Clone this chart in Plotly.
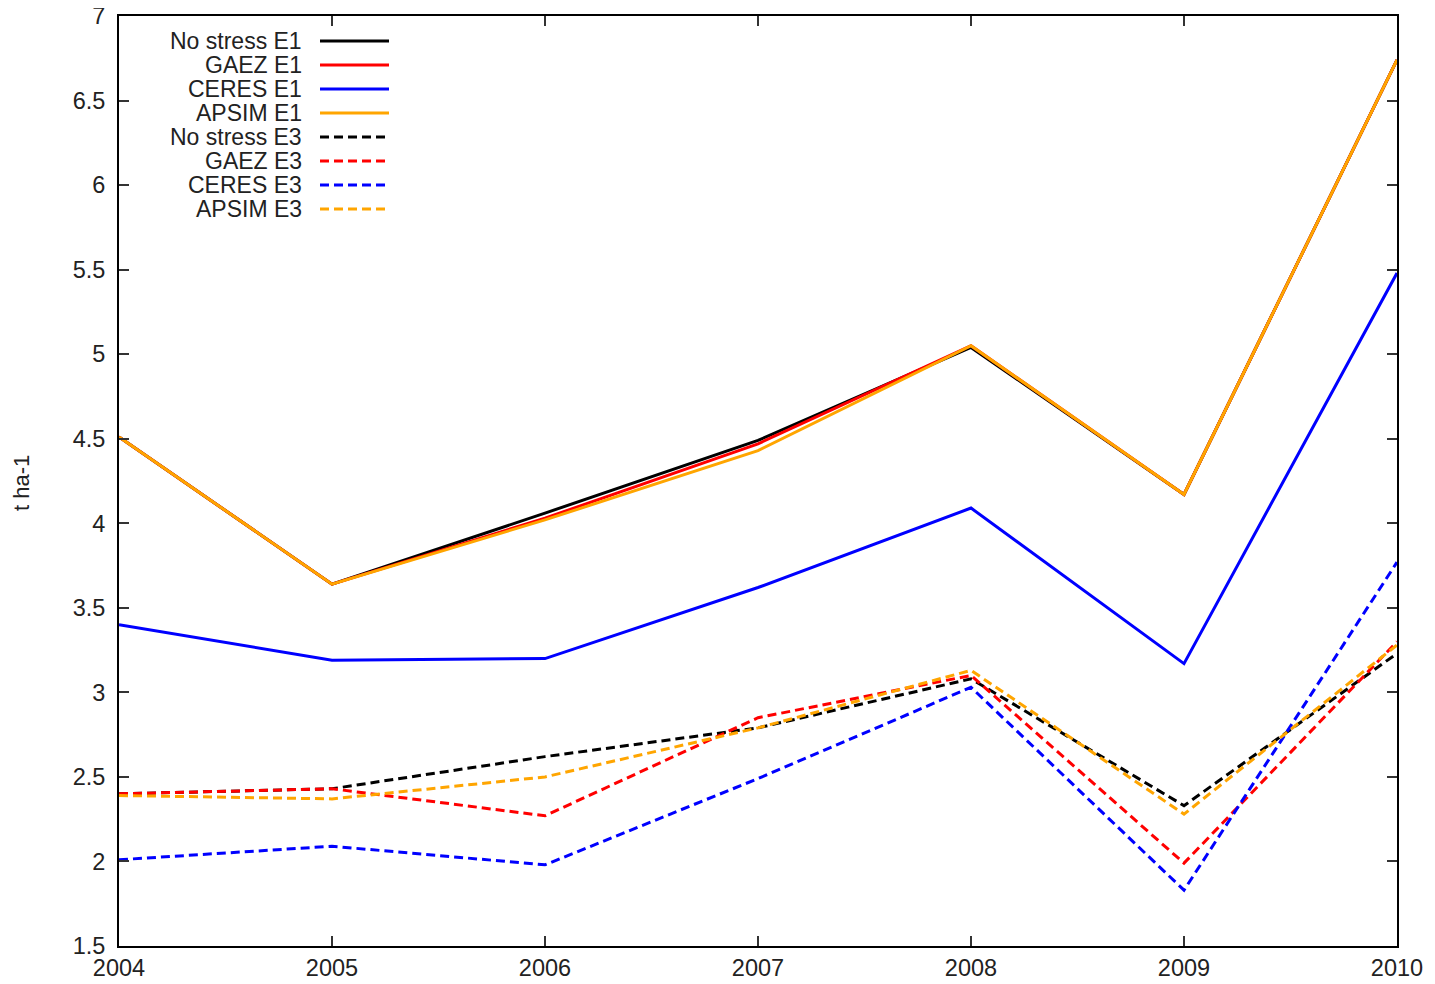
import plotly.graph_objects as go

years = [2004, 2005, 2006, 2007, 2008, 2009, 2010]

nostress_e1 = [4.51, 3.64, 4.06, 4.49, 5.04, 4.17, 6.74]
gaez_e1     = [4.51, 3.64, 4.03, 4.47, 5.05, 4.17, 6.74]
ceres_e1    = [3.40, 3.19, 3.20, 3.62, 4.09, 3.17, 5.48]
apsim_e1    = [4.51, 3.64, 4.02, 4.43, 5.05, 4.17, 6.74]

nostress_e3 = [2.40, 2.43, 2.62, 2.79, 3.08, 2.33, 3.23]
gaez_e3     = [2.40, 2.43, 2.27, 2.85, 3.10, 1.99, 3.30]
ceres_e3    = [2.01, 2.09, 1.98, 2.49, 3.03, 1.83, 3.77]
apsim_e3    = [2.39, 2.37, 2.50, 2.79, 3.13, 2.28, 3.28]

series = [
    ("No stress E1", nostress_e1, "#000000", "solid"),
    ("GAEZ E1", gaez_e1, "#ff0000", "solid"),
    ("CERES E1", ceres_e1, "#0000ff", "solid"),
    ("APSIM E1", apsim_e1, "#ffa500", "solid"),
    ("No stress E3", nostress_e3, "#000000", "9px,5px"),
    ("GAEZ E3", gaez_e3, "#ff0000", "9px,5px"),
    ("CERES E3", ceres_e3, "#0000ff", "9px,5px"),
    ("APSIM E3", apsim_e3, "#ffa500", "9px,5px"),
]

FONT = "Liberation Sans, Arial, Helvetica"
TXT = "#222222"

fig = go.Figure()
for name, vals, col, dash in series:
    fig.add_trace(go.Scatter(x=years, y=vals, mode="lines", name=name,
                             line=dict(color=col, width=3, dash=dash),
                             showlegend=False))

# page body has an 8px margin; figure coordinates = screen - 8
OFF = 8
W, H = 1435 - OFF, 984 - OFF
left_s, right_s, top_s, bottom_s = 119, 1397, 16, 946
ml = left_s - OFF
mt = top_s - OFF
mr = W - (right_s - OFF)
mb = H - (bottom_s - OFF)
pw, ph = W - ml - mr, H - mt - mb

def px_x(sx):
    return (sx - OFF - ml) / pw

def px_y(sy):
    return 1 - (sy - OFF - mt) / ph

shapes = []
annotations = []
row0, step = 41, 24
for i, (name, vals, col, dash) in enumerate(series):
    yy = px_y(row0 + i * step)
    annotations.append(dict(x=px_x(304), y=yy, xref="paper", yref="paper",
                            text=name, showarrow=False, xanchor="right", yanchor="middle",
                            font=dict(family=FONT, size=23, color=TXT)))
    shapes.append(dict(type="line", xref="paper", yref="paper",
                       x0=px_x(320), x1=px_x(389), y0=yy, y1=yy,
                       line=dict(color=col, width=3, dash=dash)))

annotations.append(dict(x=px_x(21), y=px_y(483), xref="paper", yref="paper",
                        text="t ha-1", showarrow=False, textangle=-90,
                        xanchor="center", yanchor="middle",
                        font=dict(family=FONT, size=22, color=TXT)))

fig.update_layout(
    width=W, height=H,
    margin=dict(l=ml, r=mr, t=mt, b=mb, autoexpand=False),
    plot_bgcolor="white", paper_bgcolor="white",
    shapes=shapes, annotations=annotations,
    font=dict(family=FONT, size=23, color=TXT),
)
fig.update_xaxes(range=[2004, 2010], tickvals=years, ticktext=[str(y) for y in years],
                 ticks="inside", ticklen=10, tickwidth=1.5, tickcolor="#333",
                 showline=True, linecolor="black", linewidth=2, mirror="ticks",
                 showgrid=False, zeroline=False, automargin=False,
                 ticklabeloverflow="allow", tickfont=dict(size=23.5))
fig.update_yaxes(range=[1.5, 7], dtick=0.5, tick0=1.5,
                 ticks="inside", ticklen=10, tickwidth=1.5, tickcolor="#333",
                 showline=True, linecolor="black", linewidth=2, mirror="ticks",
                 showgrid=False, zeroline=False, automargin=False,
                 ticklabeloverflow="allow", ticklabelstandoff=7,
                 tickfont=dict(size=23.5))

fig.write_html("out.html")
